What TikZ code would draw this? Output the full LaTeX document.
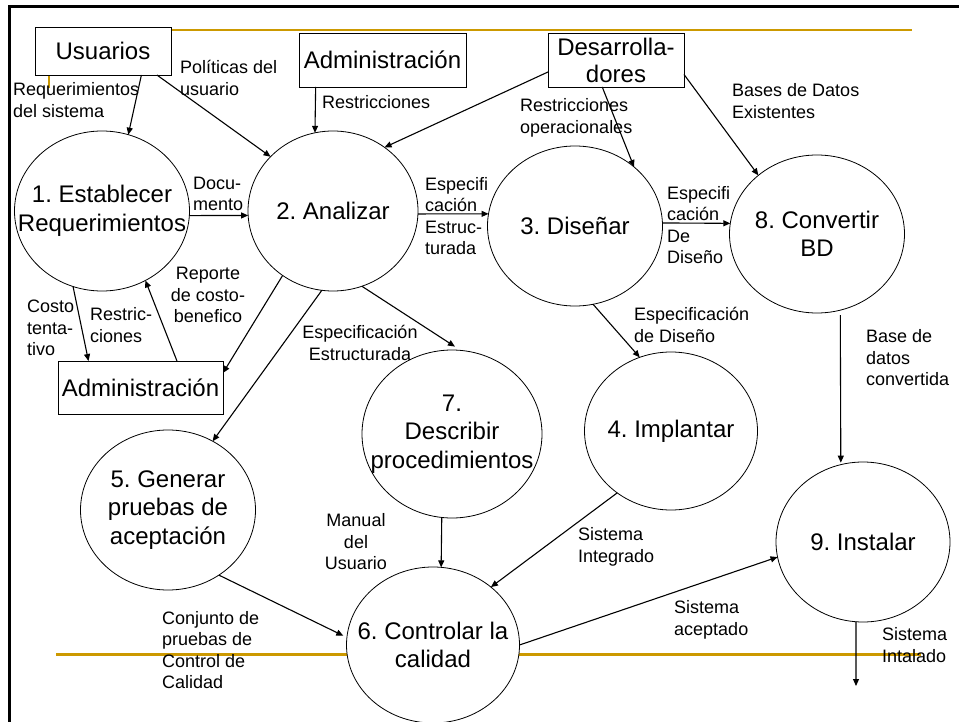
\documentclass[tikz,border=0pt]{standalone}
\usepackage{fontspec}
\setmainfont{Liberation Sans}
\usepackage{tikz}
\usetikzlibrary{arrows.meta,shapes.geometric}

\definecolor{oro}{RGB}{204,153,0}
\frenchspacing

\begin{document}
\begin{tikzpicture}[x=1pt,y=-1pt,
	>={Triangle[length=7pt,width=6pt]},
	proceso/.style={ellipse, draw, fill=white, line width=0.8pt, inner sep=0pt, outer sep=0pt, minimum width=175pt, minimum height=160pt},
	ptexto/.style={align=center, inner sep=0pt, font=\fontsize{24}{28.5}\selectfont},
	entidad/.style={rectangle, draw, fill=white, line width=0.8pt, inner sep=0pt, outer sep=0pt, align=center, font=\fontsize{24}{27}\selectfont},
	etiqueta/.style={inner sep=0pt, align=left, anchor=west, font=\fontsize{18}{21.5}\selectfont},
	flujo/.style={->, line width=1.1pt}]
	
	\useasboundingbox (0,0) rectangle (959,722);
	
	% marco de la diapositiva
	\draw[line width=3pt] (9,722) -- (9,6.5) -- (959,6.5);
	\draw[oro, line width=2.3pt] (49,88) -- (49,30) -- (912,30);
	\draw[oro, line width=3pt] (56,654) -- (921,654);
	
	% entidades externas
	\node[entidad, minimum width=136pt, minimum height=48pt] (usr) at (103,51) {Usuarios};
	\node[entidad, minimum width=167pt, minimum height=54pt] (adm1) at (382.5,60) {Administración};
	\node[entidad, minimum width=136pt, minimum height=54pt] (dev) at (616,60) {Desarrolla-\\dores};
	\node[entidad, minimum width=165pt, minimum height=53pt] (adm2) at (140.5,387.5) {Administración};
	
	% procesos
	\node[proceso, label={[ptexto]center:{1. Establecer\\Requerimientos}}] (c1) at (102,211) {};
	\node[proceso, minimum width=170pt, label={[ptexto]center:{2. Analizar}}] (c2) at (333,211) {};
	\node[proceso, label={[ptexto]center:{3. Diseñar}}] (c3) at (575,226) {};
	\node[proceso, minimum height=158pt, label={[ptexto]center:{8. Convertir\\BD}}] (c8) at (817,234) {};
	\node[proceso, minimum width=173pt, minimum height=158pt, label={[ptexto]center:{4. Implantar}}] (c4) at (671,431) {};
	\node[proceso, minimum width=180pt, minimum height=168pt, label={[ptexto]center:{7.\\Describir\\procedimientos}}] (c7) at (452,434) {};
	\node[proceso, label={[ptexto]center:{5. Generar\\pruebas de\\aceptación}}] (c5) at (168,510) {};
	\node[proceso, minimum width=173pt, minimum height=156pt, label={[ptexto]center:{6. Controlar la\\calidad}}] (c6) at (433,645) {};
	\node[proceso, minimum width=174pt, label={[ptexto]center:{9. Instalar}}] (c9) at (863,542) {};
	\coordinate (fin) at (856,686);
	
	% flujos de datos
	\draw[flujo] (usr.-32) -- (c1.71);
	\draw[flujo] (usr.-24) -- (c2.139);
	\draw[flujo] (adm1.-158) -- (c2.103);
	\draw[flujo] (dev.-170) -- (c2.51);
	\draw[flujo] (dev.-117) -- (c3.45);
	\draw[flujo] (dev.-12) -- (c8.135);
	\draw[flujo] (c1.-3) -- (c2.-177);
	\draw[flujo] (c2.-2) -- (c3.172);
	\draw[flujo] (c3.2) -- (c8.173);
	\draw[flujo] (c1.-111) -- (adm2.153);
	\draw[flujo] (adm2.36) -- (c1.-58);
	\draw[flujo] (c2.-128) -- (adm2.10);
	\draw[flujo] (c2.-98) -- (c5.57);
	\draw[flujo, shorten >=7pt] (c2.-69) -- (c7.84);
	\draw[flujo] (c3.-77) -- (c4.113);
	\draw[flujo, shorten <=5pt, shorten >=2pt] (c8.-73.2) -- (c9.106.6);
	\draw[flujo, shorten >=4pt] (c5.-52) -- (c6.175);
	\draw[flujo] (c7.-97.5) -- (c6.84.1);
	\draw[flujo] (c4.-131) -- (c6.45);
	\draw[flujo] (c6.0) -- (c9.190);
	\draw[flujo] (c9.-95) -- (fin);
	
	% etiquetas
	\node[etiqueta] (lreq) at (13,100) {Requerimientos\\del sistema};
	\node[etiqueta] (lpol) at (180,78) {Políticas del\\usuario};
	\node[etiqueta] (lres) at (322,102) {Restricciones};
	\node[etiqueta] (lope) at (520,118) {Restricciones\\operacionales};
	\node[etiqueta] (lbas) at (732,101) {Bases de Datos\\Existentes};
	\node[etiqueta] (ldoc) at (193,194) {Docu-\\mento};
	\node[etiqueta] (lee) at (425,216) {Especifi\\cación\\Estruc-\\turada};
	\node[etiqueta] (led) at (667,225) {Especifi\\cación\\De\\Diseño};
	\node[etiqueta] (lcos) at (27,328) {Costo\\tenta-\\tivo};
	\node[etiqueta] (lrst) at (90,325) {Restric-\\ciones};
	\node[etiqueta, anchor=center, align=center] (lrep) at (208,295) {Reporte\\de costo-\\benefico};
	\node[etiqueta, anchor=center, align=center] (lest) at (360,343) {Especificación\\Estructurada};
	\node[etiqueta] (lsd) at (634,325) {Especificación\\de Diseño};
	\node[etiqueta] (lbd) at (866,358) {Base de\\datos\\convertida};
	\node[etiqueta, anchor=center, align=center] (lman) at (356,542) {Manual\\del\\Usuario};
	\node[etiqueta] (lsi) at (578,547) {Sistema\\Integrado};
	\node[etiqueta] (lcon) at (162,650) {Conjunto de\\pruebas de\\Control de\\Calidad};
	\node[etiqueta] (lsa) at (674,620) {Sistema\\aceptado};
	\node[etiqueta] (lsin) at (882,645) {Sistema\\Intalado};
	
\end{tikzpicture}
\end{document}
